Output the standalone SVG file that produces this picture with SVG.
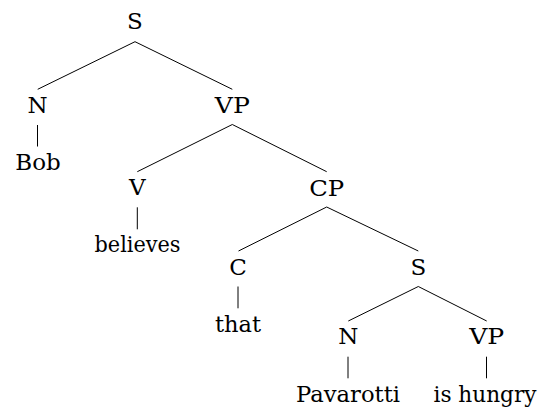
<svg xmlns="http://www.w3.org/2000/svg" width="542" height="408" viewBox="0 0 542 408">
  <style>
    text { font-family: "DejaVu Serif", serif; font-size: 23px; fill: #000; text-anchor: middle; }
    .edge { stroke: #000; stroke-width: 1; fill: none; stroke-linecap: butt; }
  </style>
  <rect width="542" height="408" fill="#fff"/>

  <!-- tree branches -->
  <g id="edges" class="edge">
    <path d="M135 41.7 L37.7 89.3 M135 41.7 L232.3 89.3"/>
    <path d="M37.5 125 V146.5"/>
    <path d="M232.3 124.5 L137.3 171.7 M232.3 124.5 L326.7 171.7"/>
    <path d="M137.3 207.3 V229.3"/>
    <path d="M326.7 207 L238.5 251 M326.7 207 L418.3 251"/>
    <path d="M238 286.5 V308.3"/>
    <path d="M418.3 286.5 L348.3 321 M418.3 286.5 L486.7 321"/>
    <path d="M348 356.7 V378.3"/>
    <path d="M486.5 356.7 V378.3"/>
  </g>

  <!-- nodes -->
  <g id="s-root"><text x="135" y="28.5">S</text></g>
  <g id="n-subj"><text x="37.5" y="112.5">N</text></g>
  <g id="vp-main"><text x="232.3" y="113" textLength="35" lengthAdjust="spacingAndGlyphs">VP</text></g>
  <g id="leaf-bob"><text x="38" y="170" textLength="45.5" lengthAdjust="spacingAndGlyphs">Bob</text></g>
  <g id="v-main"><text x="137.3" y="195">V</text></g>
  <g id="cp"><text x="326.7" y="195.5" textLength="35" lengthAdjust="spacingAndGlyphs">CP</text></g>
  <g id="leaf-believes"><text x="137.5" y="251.5" textLength="86" lengthAdjust="spacingAndGlyphs">believes</text></g>
  <g id="c"><text x="238" y="275">C</text></g>
  <g id="s-emb"><text x="418.3" y="275">S</text></g>
  <g id="leaf-that"><text x="238" y="331.7" textLength="46" lengthAdjust="spacingAndGlyphs">that</text></g>
  <g id="n-emb"><text x="348.3" y="343.5">N</text></g>
  <g id="vp-emb"><text x="486.7" y="343.5" textLength="35" lengthAdjust="spacingAndGlyphs">VP</text></g>
  <g id="leaf-pavarotti"><text x="348" y="401.5" textLength="104" lengthAdjust="spacingAndGlyphs">Pavarotti</text></g>
  <g id="leaf-hungry"><text x="485" y="401.5" textLength="103" lengthAdjust="spacingAndGlyphs">is hungry</text></g>
</svg>
